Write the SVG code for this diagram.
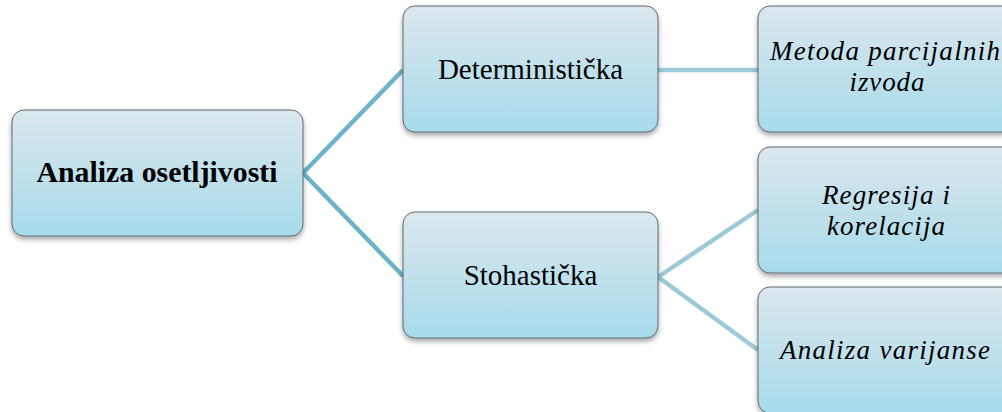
<svg xmlns="http://www.w3.org/2000/svg" width="1002" height="412" viewBox="0 0 1002 412">
<defs>
<linearGradient id="g" x1="0" y1="0" x2="0" y2="1">
<stop offset="0" stop-color="#dbe7ed"/>
<stop offset="1" stop-color="#a7dbeb"/>
</linearGradient>
<filter id="sh" x="-10%" y="-10%" width="120%" height="130%">
<feDropShadow dx="0" dy="3" stdDeviation="2.5" flood-color="#000" flood-opacity="0.35"/>
</filter>
</defs>
<style>
.box{fill:url(#g);stroke:#5f6a70;stroke-width:1;filter:url(#sh)}
.t{font-family:"Liberation Serif","Times New Roman",serif;fill:#000;text-anchor:middle}
.r{font-size:29px}
.b{font-size:29px;font-weight:bold}
.i{font-size:27px;font-style:italic}
.c1{stroke:#6db3c9;stroke-width:4.5;fill:none}
.c2{stroke:#9ccad9;stroke-width:4.5;fill:none}
</style>
<rect width="1002" height="412" fill="#fff"/>
<g id="connectors">
<path class="c1" d="M303,173 L403,70"/>
<path class="c1" d="M303,173 L403,276"/>
<path class="c2" d="M658,70 L758,70"/>
<path class="c2" d="M658,277 L758,210"/>
<path class="c2" d="M658,277 L758,350"/>
</g>
<g id="root">
<rect class="box" x="12" y="110" width="291" height="126" rx="12"/>
<text class="t b" x="157" y="182" textLength="241" lengthAdjust="spacingAndGlyphs">Analiza osetljivosti</text>
</g>
<g id="deterministicka">
<rect class="box" x="403" y="6" width="255" height="126" rx="12"/>
<text class="t r" x="530.5" y="79">Deterministička</text>
</g>
<g id="stohasticka">
<rect class="box" x="403" y="212" width="255" height="126" rx="12"/>
<text class="t r" x="530.5" y="285">Stohastička</text>
</g>
<g id="metoda">
<rect class="box" x="758" y="6" width="256" height="126" rx="12"/>
<text class="t i" x="885" y="60" textLength="230" lengthAdjust="spacing">Metoda parcijalnih</text>
<text class="t i" x="887" y="91" textLength="75" lengthAdjust="spacing">izvoda</text>
</g>
<g id="regresija">
<rect class="box" x="758" y="147" width="256" height="126" rx="12"/>
<text class="t i" x="886" y="204" textLength="128" lengthAdjust="spacing">Regresija i</text>
<text class="t i" x="886" y="235" textLength="118" lengthAdjust="spacing">korelacija</text>
</g>
<g id="varijanse">
<rect class="box" x="758" y="287" width="256" height="126" rx="12"/>
<text class="t i" x="885" y="359" textLength="210" lengthAdjust="spacing">Analiza varijanse</text>
</g>
</svg>
